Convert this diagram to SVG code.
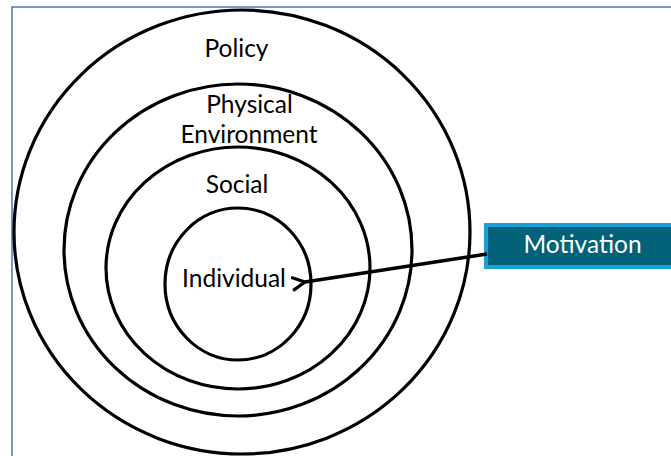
<svg xmlns="http://www.w3.org/2000/svg" width="671" height="456" viewBox="0 0 671 456">
<style>
.ring{fill:none;stroke:#000;stroke-width:3.2}
.lbl{font-family:Lato,"Open Sans",sans-serif;font-size:24.5px;fill:#000;text-anchor:middle}
</style>
<defs>
<marker id="ah" viewBox="0 0 10 10" refX="1.5" refY="5" markerWidth="16" markerHeight="16" orient="auto-start-reverse" markerUnits="userSpaceOnUse">
<path d="M9,1.2 L1.5,5 L9,8.8" fill="none" stroke="#000" stroke-width="2" stroke-linecap="round" stroke-linejoin="round"/>
</marker>
</defs>
<rect width="671" height="456" fill="#fff"/>
<rect x="12" y="7" width="670" height="460" fill="none" stroke="#4F81BD" stroke-width="1.6"/>
<g id="policy">
<ellipse class="ring" cx="242" cy="232" rx="228" ry="222"/>
<text class="lbl" x="236.5" y="57">Policy</text>
</g>
<g id="physical">
<ellipse class="ring" cx="238" cy="250" rx="174" ry="166"/>
<text class="lbl" x="249.5" y="113">Physical</text>
<text class="lbl" x="249" y="143">Environment</text>
</g>
<g id="social">
<ellipse class="ring" cx="238" cy="268" rx="132" ry="121"/>
<text class="lbl" x="237" y="193">Social</text>
</g>
<g id="individual">
<ellipse class="ring" cx="238" cy="284" rx="73" ry="76"/>
<text class="lbl" x="234" y="287">Individual</text>
</g>
<g id="motivation">
<rect x="486" y="225" width="200" height="42" fill="#02627A" stroke="#1A9FD9" stroke-width="4"/>
<text x="582.5" y="253" font-family="Lato,'Open Sans',sans-serif" font-size="24.5" fill="#fff" text-anchor="middle">Motivation</text>
</g>
<g id="connectors">
<line x1="487" y1="254" x2="305" y2="282" stroke="#000" stroke-width="3.5" marker-end="url(#ah)"/>
</g>
</svg>
